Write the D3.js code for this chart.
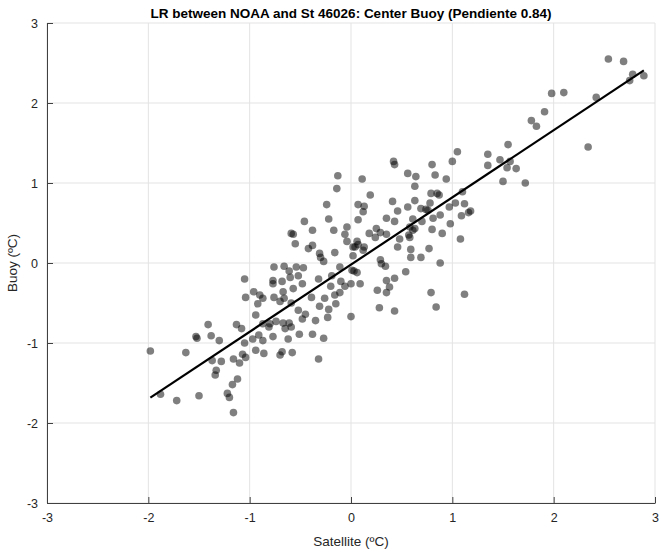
<!DOCTYPE html>
<html lang="en">
<head>
  <meta charset="UTF-8">
  <title>LR NOAA vs St 46026</title>
<script src="https://d3js.org/d3.v7.min.js"></script>
<style>
  body { margin: 0; background: #fff; }
  text { font-family: "Liberation Sans", Arial, Helvetica, sans-serif; }
</style>
</head>
<body>
<div id="chart"></div>

  <script>

// satellite anomaly (x) and buoy anomaly (y), degC
const satellite = [
  -0.96, -1.04, -0.92, -0.94, -1.41, -1.13, -1.08, -1.53, -1.52, -1.38, -1.30, -1.05, -0.97, -0.91,
  -1.98, -1.63, -0.94, -1.07, -1.04, -1.16, -1.37, -1.28, -1.10, -1.33, -1.34, -1.12, -1.17, -1.22,
  -1.20, -1.88, -1.72, -1.50, -1.16,
  -0.58, -0.68, -0.70, -0.86, -0.87, -0.62, -0.32,
  -0.13, -0.14, -0.24, 0.07, -0.22, -0.46, 0.07, -0.04, -0.17, -0.38, -0.59, -0.57, -0.06, -0.04,
  0.06, -0.55, -0.38, -0.42, 0.04, 0.07, -0.31, -0.16, -0.30, -0.27, 0.02, -0.11, 0.01, 0.03,
  -0.76, -0.66, -0.54, -0.47, -0.61, -0.52, -0.60, -0.48, -0.57, -0.77, -0.77, -0.68, -0.32, -0.19,
  -0.10, -0.06, 0.09, -0.20, -1.05, -0.90, -0.87, -0.76, -0.67, -0.66, -0.70, -0.39, -0.26, -0.16,
  -0.11, -0.59, -0.31, -0.15, -0.22, -0.52, -0.45, -0.48, 0.00, -0.23, -0.35, -0.80, -0.81, -0.74,
  -0.67, -0.61, -0.65, -0.59, -0.87, -0.51, -0.38, -0.27, -0.77,
  1.05, 0.42, 0.43, 0.80, 1.00, 0.56, 0.64, 0.83, 0.11, 0.94, 0.63, 0.19, 0.79, 0.85, 0.87, 1.10,
  0.41, 0.63, 0.13, 0.78, 1.03, 1.12, 0.97, 0.56, 0.69, 0.74, 0.76, 0.46, 0.12, 0.88, 1.09, 1.16,
  0.35, 0.81, 0.61, 0.43, 0.70, 0.98, 0.58, 0.63, 0.61, 0.80, 0.25, 0.18, 0.29, 0.35, 0.24, 0.57,
  0.58, 0.48, 0.90, 1.08, 0.02, 0.13, 0.12, 0.46, 0.77, 0.59, 0.59, 0.69, 0.29, 0.30, 0.34, 0.88,
  0.06, 0.54, 0.43, 0.35, 0.38, 0.26, 0.35, 0.00, 0.79, 1.12, 0.28, 0.43, 0.84,
  1.91, 1.78, 1.83, 1.55, 1.35, 1.47, 1.57, 1.35, 1.54, 1.63, 1.50, 1.72, 1.18,
  2.54, 2.69, 2.78, 2.75, 2.89, 1.98, 2.10, 2.42, 2.34
];
const buoy = [
  -0.36, -0.43, -0.51, -0.65, -0.77, -0.77, -0.82, -0.92, -0.94, -0.91, -0.97, -1.00, -0.95, -0.90,
  -1.10, -1.12, -1.09, -1.14, -1.18, -1.20, -1.22, -1.23, -1.25, -1.34, -1.40, -1.45, -1.52, -1.63,
  -1.68, -1.64, -1.72, -1.66, -1.87,
  -1.12, -1.11, -1.15, -1.13, -0.97, -0.95, -1.20,
  1.09, 0.93, 0.73, 0.73, 0.55, 0.52, 0.54, 0.45, 0.41, 0.41, 0.37, 0.36, 0.36, 0.27,
  0.27, 0.24, 0.22, 0.18, 0.20, 0.23, 0.12, 0.13, 0.07, 0.02, 0.09, -0.05, -0.09, -0.10,
  -0.05, -0.04, -0.05, -0.06, -0.10, -0.16, -0.18, -0.26, -0.32, -0.22, -0.26, -0.23, -0.20, -0.16,
  -0.23, -0.29, -0.26, -0.29, -0.20, -0.40, -0.44, -0.43, -0.36, -0.44, -0.48, -0.43, -0.44, -0.40,
  -0.37, -0.50, -0.54, -0.51, -0.58, -0.59, -0.64, -0.70, -0.67, -0.68, -0.72, -0.76, -0.80, -0.73,
  -0.75, -0.75, -0.82, -0.80, -0.76, -0.89, -0.89, -0.94, -0.92,
  1.39, 1.27, 1.23, 1.23, 1.27, 1.12, 1.08, 1.10, 1.05, 1.05, 0.96, 0.85, 0.87, 0.87, 0.85, 0.89,
  0.77, 0.78, 0.71, 0.75, 0.75, 0.74, 0.70, 0.70, 0.68, 0.67, 0.66, 0.65, 0.64, 0.60, 0.59, 0.63,
  0.56, 0.56, 0.55, 0.52, 0.52, 0.49, 0.45, 0.43, 0.41, 0.42, 0.43, 0.37, 0.38, 0.36, 0.32, 0.35,
  0.32, 0.30, 0.37, 0.30, 0.20, 0.20, 0.16, 0.20, 0.18, 0.17, 0.07, 0.07, 0.04, -0.01, -0.04, 0.00,
  -0.12, -0.11, -0.19, -0.22, -0.30, -0.34, -0.37, -0.26, -0.37, -0.39, -0.56, -0.60, -0.55,
  1.89, 1.78, 1.71, 1.48, 1.36, 1.29, 1.27, 1.22, 1.19, 1.18, 1.02, 1.00, 0.65,
  2.55, 2.52, 2.36, 2.28, 2.34, 2.12, 2.13, 2.07, 1.45
];

const ticks = [-3, -2, -1, 0, 1, 2, 3];
const fitSlope = 0.84;
const fitIntercept = -0.02;
const title = 'LR between NOAA and St 46026: Center Buoy (Pendiente 0.84)';

const points = satellite.map((s, i) => ({ x: s, y: buoy[i] }));

const width = 661;
const height = 553;
const margin = { top: 23, right: 6, bottom: 50, left: 47 };

const x = d3.scaleLinear().domain([-3, 3]).range([margin.left, width - margin.right]);
const y = d3.scaleLinear().domain([-3, 3]).range([height - margin.bottom, margin.top]);

const svg = d3.select('#chart')
  .append('svg')
  .attr('width', width)
  .attr('height', height);

// grid
svg.append('g')
  .selectAll('line.gx')
  .data(ticks)
  .enter()
  .append('line')
  .attr('x1', d => x(d)).attr('x2', d => x(d))
  .attr('y1', y(-3)).attr('y2', y(3))
  .attr('stroke', '#e3e3e3')
  .attr('stroke-width', 1);

svg.append('g')
  .selectAll('line.gy')
  .data(ticks)
  .enter()
  .append('line')
  .attr('y1', d => y(d)).attr('y2', d => y(d))
  .attr('x1', x(-3)).attr('x2', x(3))
  .attr('stroke', '#e3e3e3')
  .attr('stroke-width', 1);

// axes, ticks inward like matlab, plain hyphen minus
const fmt = d => String(d);

const xAxis = svg.append('g')
  .attr('transform', `translate(0,${y(-3)})`)
  .call(d3.axisBottom(x).tickValues(ticks).tickFormat(fmt).tickSizeInner(-6).tickSizeOuter(0).tickPadding(10));

const yAxis = svg.append('g')
  .attr('transform', `translate(${x(-3)},0)`)
  .call(d3.axisLeft(y).tickValues(ticks).tickFormat(fmt).tickSizeInner(-6).tickSizeOuter(0).tickPadding(9));

[xAxis, yAxis].forEach(a => {
  a.select('.domain').attr('stroke', '#404040').attr('stroke-width', 1);
  a.selectAll('.tick line').attr('stroke', '#404040');
  a.selectAll('.tick text')
    .attr('fill', '#262626')
    .style('font-size', '12.5px')
    .style('font-family', '"Liberation Sans", Arial, sans-serif');
});

// points
svg.append('g')
  .selectAll('circle')
  .data(points)
  .enter()
  .append('circle')
  .attr('cx', d => x(d.x))
  .attr('cy', d => y(d.y))
  .attr('r', 3.8)
  .attr('fill', '#000')
  .attr('fill-opacity', 0.5);

// regression line across the data range
const xr = d3.extent(satellite);
svg.append('line')
  .attr('x1', x(xr[0])).attr('y1', y(fitSlope * xr[0] + fitIntercept))
  .attr('x2', x(xr[1])).attr('y2', y(fitSlope * xr[1] + fitIntercept))
  .attr('stroke', '#000')
  .attr('stroke-width', 2.2);

// labels
svg.append('text')
  .attr('x', (x(-3) + x(3)) / 2)
  .attr('y', 18)
  .attr('text-anchor', 'middle')
  .style('font-size', '13.5px')
  .style('font-weight', 'bold')
  .attr('fill', '#000')
  .text(title);

svg.append('text')
  .attr('x', (x(-3) + x(3)) / 2)
  .attr('y', 546)
  .attr('text-anchor', 'middle')
  .style('font-size', '13.5px')
  .attr('fill', '#262626')
  .text('Satellite (ºC)');

svg.append('text')
  .attr('transform', `translate(17,${(y(-3) + y(3)) / 2}) rotate(-90)`)
  .attr('text-anchor', 'middle')
  .style('font-size', '13.5px')
  .attr('fill', '#262626')
  .text('Buoy (ºC)');

  </script>

</body>
</html>
